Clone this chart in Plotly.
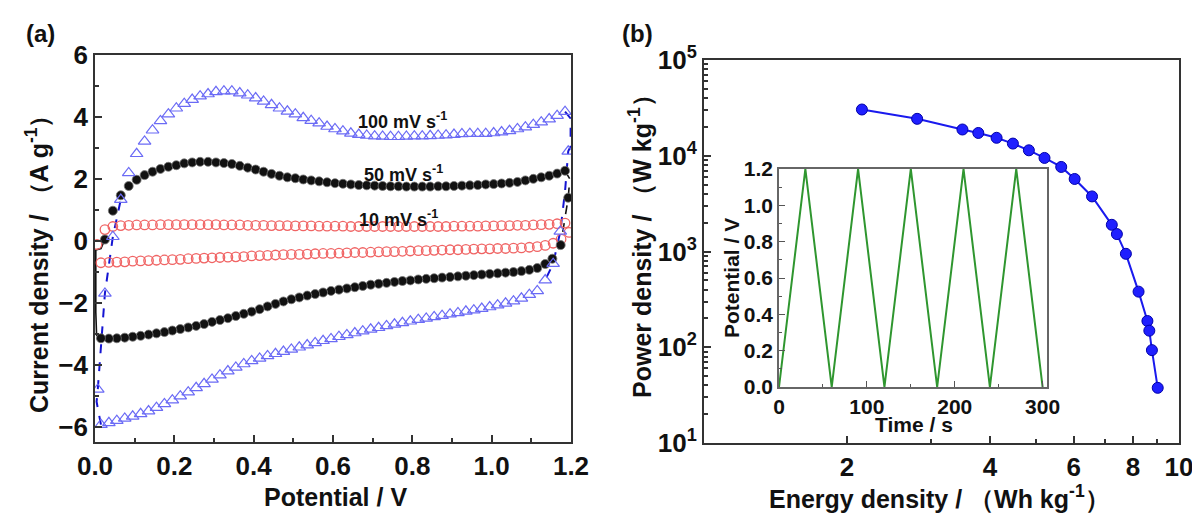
import plotly.graph_objects as go

# ---------------- (a) cyclic voltammograms ----------------
# 100 mV s-1 (blue open triangles)
V_up100 = [0.007, 0.025, 0.045, 0.065, 0.085, 0.105, 0.125, 0.145, 0.165, 0.185, 0.205, 0.225,
           0.245, 0.265, 0.285, 0.305, 0.325, 0.345, 0.365, 0.385, 0.405, 0.425, 0.445, 0.465,
           0.485, 0.505, 0.525, 0.545, 0.565, 0.585, 0.605, 0.625, 0.645, 0.665, 0.685, 0.705,
           0.725, 0.745, 0.765, 0.785, 0.805, 0.825, 0.845, 0.865, 0.885, 0.905, 0.925, 0.945,
           0.965, 0.985, 1.005, 1.025, 1.045, 1.065, 1.085, 1.105, 1.125, 1.145, 1.165, 1.185]
I_up100 = [-4.80, -1.70, 0.13, 1.33, 2.19, 2.81, 3.21, 3.57, 3.87, 4.09, 4.28, 4.43,
           4.56, 4.67, 4.74, 4.81, 4.83, 4.83, 4.77, 4.70, 4.61, 4.50, 4.39, 4.28,
           4.18, 4.09, 3.97, 3.88, 3.80, 3.69, 3.61, 3.54, 3.47, 3.43, 3.40, 3.38,
           3.37, 3.36, 3.36, 3.37, 3.38, 3.38, 3.39, 3.40, 3.41, 3.43, 3.45, 3.46,
           3.46, 3.46, 3.48, 3.51, 3.55, 3.61, 3.67, 3.75, 3.83, 3.93, 4.04, 4.17]
V_lo100 = [1.193, 1.173, 1.155, 1.135, 1.115, 1.095, 1.075, 1.055, 1.035, 1.015, 0.995, 0.975,
           0.955, 0.935, 0.915, 0.895, 0.875, 0.855, 0.835, 0.815, 0.795, 0.775, 0.755, 0.735,
           0.715, 0.695, 0.675, 0.655, 0.635, 0.615, 0.595, 0.575, 0.555, 0.535, 0.515, 0.495,
           0.475, 0.455, 0.435, 0.415, 0.395, 0.375, 0.355, 0.335, 0.315, 0.295, 0.275, 0.255,
           0.235, 0.215, 0.195, 0.175, 0.155, 0.135, 0.115, 0.095, 0.075, 0.055, 0.035, 0.015]
I_lo100 = [2.89, 0.30, -0.74, -1.27, -1.62, -1.74, -1.86, -1.95, -2.02, -2.08, -2.14, -2.19,
           -2.24, -2.28, -2.33, -2.37, -2.42, -2.46, -2.51, -2.55, -2.60, -2.65, -2.70, -2.75,
           -2.81, -2.86, -2.92, -2.98, -3.04, -3.10, -3.17, -3.23, -3.30, -3.37, -3.44, -3.51,
           -3.58, -3.65, -3.72, -3.80, -3.88, -3.98, -4.09, -4.21, -4.34, -4.48, -4.62, -4.75,
           -4.89, -5.02, -5.15, -5.27, -5.39, -5.50, -5.59, -5.67, -5.74, -5.81, -5.88, -5.94]
# switching segments (drawn as dashed dark-blue line)
V_swL100 = [0.015, 0.004, 0.007, 0.025, 0.045, 0.065]
I_swL100 = [-5.94, -5.20, -4.80, -1.70, 0.13, 1.33]
V_swR100 = [1.185, 1.199, 1.199, 1.193, 1.185, 1.173, 1.155, 1.135]
I_swR100 = [4.17, 3.95, 3.05, 2.89, 1.60, 0.30, -0.74, -1.27]

# 50 mV s-1 (black spheres)
V_up50 = [0.025, 0.045, 0.065, 0.085, 0.105, 0.125, 0.145, 0.165, 0.185, 0.205,
          0.225, 0.245, 0.265, 0.285, 0.305, 0.325, 0.345, 0.365, 0.385, 0.405,
          0.425, 0.445, 0.465, 0.485, 0.505, 0.525, 0.545, 0.565, 0.585, 0.605,
          0.625, 0.645, 0.665, 0.685, 0.705, 0.725, 0.745, 0.765, 0.785, 0.805,
          0.825, 0.845, 0.865, 0.885, 0.905, 0.925, 0.945, 0.965, 0.985, 1.005,
          1.025, 1.045, 1.065, 1.085, 1.105, 1.125, 1.145, 1.165, 1.185]
I_up50 = [0.04, 0.97, 1.47, 1.77, 1.97, 2.12, 2.23, 2.32, 2.39, 2.44,
          2.50, 2.53, 2.55, 2.55, 2.53, 2.51, 2.48, 2.42, 2.36, 2.30,
          2.23, 2.16, 2.10, 2.05, 2.02, 1.98, 1.95, 1.92, 1.89, 1.86,
          1.84, 1.82, 1.80, 1.79, 1.78, 1.77, 1.76, 1.76, 1.75, 1.75,
          1.75, 1.75, 1.76, 1.76, 1.77, 1.78, 1.79, 1.80, 1.82, 1.83,
          1.85, 1.87, 1.90, 1.95, 2.00, 2.05, 2.10, 2.17, 2.26]
V_lo50 = [1.193, 1.174, 1.153, 1.135, 1.115, 1.095, 1.075, 1.055, 1.035, 1.015, 0.995, 0.975,
          0.955, 0.935, 0.915, 0.895, 0.875, 0.855, 0.835, 0.815, 0.795, 0.775, 0.755, 0.735,
          0.715, 0.695, 0.675, 0.655, 0.635, 0.615, 0.595, 0.575, 0.555, 0.535, 0.515, 0.495,
          0.475, 0.455, 0.435, 0.415, 0.395, 0.375, 0.355, 0.335, 0.315, 0.295, 0.275, 0.255,
          0.235, 0.215, 0.195, 0.175, 0.155, 0.135, 0.115, 0.095, 0.075, 0.055, 0.035, 0.015]
I_lo50 = [1.39, -0.14, -0.58, -0.75, -0.88, -0.94, -0.98, -1.01, -1.03, -1.05, -1.07, -1.09,
          -1.11, -1.13, -1.15, -1.17, -1.19, -1.21, -1.23, -1.25, -1.28, -1.30, -1.33, -1.36,
          -1.39, -1.42, -1.46, -1.50, -1.54, -1.58, -1.62, -1.67, -1.72, -1.77, -1.83, -1.89,
          -1.96, -2.04, -2.12, -2.21, -2.29, -2.36, -2.43, -2.50, -2.56, -2.62, -2.69, -2.75,
          -2.80, -2.85, -2.90, -2.95, -2.99, -3.03, -3.07, -3.10, -3.13, -3.15, -3.16, -3.15]
V_swL50 = [0.015, 0.004, 0.002, 0.002, 0.015, 0.025]
I_swL50 = [-3.15, -3.05, -2.30, -0.30, -0.25, 0.04]
V_swR50 = [1.185, 1.197, 1.193, 1.174, 1.153]
I_swR50 = [2.26, 2.00, 1.39, -0.14, -0.58]

# 10 mV s-1 (red open circles)
V_up10 = [0.005, 0.025, 0.045, 0.065, 0.085, 0.105, 0.125, 0.145, 0.165, 0.185,
          0.205, 0.225, 0.245, 0.265, 0.285, 0.305, 0.325, 0.345, 0.365, 0.385,
          0.405, 0.425, 0.445, 0.465, 0.485, 0.505, 0.525, 0.545, 0.565, 0.585,
          0.605, 0.625, 0.645, 0.665, 0.685, 0.705, 0.725, 0.745, 0.765, 0.785,
          0.805, 0.825, 0.845, 0.865, 0.885, 0.905, 0.925, 0.945, 0.965, 0.985,
          1.005, 1.025, 1.045, 1.065, 1.085, 1.105, 1.125, 1.145, 1.165, 1.185]
I_up10 = [-0.12, 0.36, 0.46, 0.49, 0.50, 0.51, 0.51, 0.51, 0.52, 0.52,
          0.52, 0.52, 0.52, 0.52, 0.52, 0.52, 0.51, 0.51, 0.51, 0.50,
          0.50, 0.50, 0.49, 0.49, 0.49, 0.48, 0.48, 0.48, 0.47, 0.47,
          0.47, 0.47, 0.46, 0.46, 0.46, 0.46, 0.46, 0.46, 0.46, 0.46,
          0.46, 0.46, 0.46, 0.46, 0.46, 0.47, 0.47, 0.47, 0.47, 0.48,
          0.48, 0.49, 0.49, 0.50, 0.50, 0.51, 0.52, 0.53, 0.55, 0.57]
V_lo10 = [1.195, 1.175, 1.155, 1.135, 1.115, 1.095, 1.075, 1.055, 1.035, 1.015,
          0.995, 0.975, 0.955, 0.935, 0.915, 0.895, 0.875, 0.855, 0.835, 0.815,
          0.795, 0.775, 0.755, 0.735, 0.715, 0.695, 0.675, 0.655, 0.635, 0.615,
          0.595, 0.575, 0.555, 0.535, 0.515, 0.495, 0.475, 0.455, 0.435, 0.415,
          0.395, 0.375, 0.355, 0.335, 0.315, 0.295, 0.275, 0.255, 0.235, 0.215,
          0.195, 0.175, 0.155, 0.135, 0.115, 0.095, 0.075, 0.055, 0.035, 0.015]
I_lo10 = [0.27, 0.05, -0.08, -0.15, -0.19, -0.21, -0.23, -0.24, -0.25, -0.25,
          -0.26, -0.26, -0.27, -0.28, -0.29, -0.29, -0.30, -0.31, -0.32, -0.32,
          -0.33, -0.34, -0.35, -0.35, -0.36, -0.37, -0.38, -0.38, -0.39, -0.40,
          -0.41, -0.41, -0.42, -0.43, -0.44, -0.44, -0.45, -0.46, -0.47, -0.48,
          -0.49, -0.51, -0.52, -0.53, -0.54, -0.55, -0.56, -0.57, -0.58, -0.60,
          -0.61, -0.62, -0.63, -0.64, -0.65, -0.66, -0.68, -0.69, -0.70, -0.71]

scan_labels = ["100 mV s<sup>-1</sup>", "50 mV s<sup>-1</sup>", "10 mV s<sup>-1</sup>"]
label_V = [0.776, 0.777, 0.764]
label_I = [3.90, 2.18, 0.73]

xa_ticks = [0.0, 0.2, 0.4, 0.6, 0.8, 1.0, 1.2]
xa_text = ["0.0", "0.2", "0.4", "0.6", "0.8", "1.0", "1.2"]
ya_ticks = [-6, -4, -2, 0, 2, 4, 6]

# ---------------- (b) Ragone plot ----------------
energy = [2.15, 2.81, 3.50, 3.78, 4.13, 4.47, 4.83, 5.21, 5.65, 6.03,
          6.56, 7.22, 7.40, 7.73, 8.22, 8.58, 8.66, 8.77, 9.02]
power = [30400, 24300, 18800, 17300, 15400, 13400, 11400, 9490, 7640, 5720,
         3760, 1900, 1520, 946, 381, 188, 149, 93.3, 37.7]
xb_ticks = [2, 4, 6, 8, 10]
xb_minor = [3, 5, 7, 9]
yb_ticks = [10, 100, 1000, 10000, 100000]
yb_text = ["10<sup>1</sup>", "10<sup>2</sup>", "10<sup>3</sup>", "10<sup>4</sup>", "10<sup>5</sup>"]

# inset: galvanostatic charge-discharge
time_s = [0, 30, 60, 90, 120, 150, 180, 210, 240, 270, 300]
pot_v = [0.0, 1.2, 0.0, 1.2, 0.0, 1.2, 0.0, 1.2, 0.0, 1.2, 0.0]

# ---------------- figure ----------------
FONT = "Liberation Sans, Arial, sans-serif"
BLUE_T = "#6b6bf5"
RED_C = "#f06464"
DARKBLUE = "#1414d2"
FRAME = "#333333"
W, H, OFF = 1200, 526, 8   # page body margin offset


def px(xp):
    return (xp - OFF) / W


def py(yp):
    return 1 - (yp - OFF) / H


fig = go.Figure()


def pts(x, y, sym, color, size, lw, xa="x", ya="y"):
    fig.add_trace(go.Scatter(x=x, y=y, mode="markers", xaxis=xa, yaxis=ya,
                             marker=dict(symbol=sym, color=color, size=size,
                                         line=dict(color=color, width=lw)),
                             hoverinfo="skip"))


def line(x, y, color, width, dash="solid", xa="x", ya="y"):
    fig.add_trace(go.Scatter(x=x, y=y, mode="lines", xaxis=xa, yaxis=ya,
                             line=dict(color=color, width=width, dash=dash),
                             hoverinfo="skip"))


# switching segments
line(V_swL50, I_swL50, "#111111", 1.6)
line(V_swR50, I_swR50, "#111111", 1.6, "dash")
line(V_swL100, I_swL100, DARKBLUE, 2, "dash")
line(V_swR100, I_swR100, DARKBLUE, 2, "dash")

# 10 mV
pts(V_up10, I_up10, "circle-open", RED_C, 9.5, 1.3)
pts(V_lo10, I_lo10, "circle-open", RED_C, 9.5, 1.3)
# 50 mV
fig.add_trace(go.Scatter(x=V_up50 + [None] + V_lo50, y=I_up50 + [None] + I_lo50, mode="markers",
                         marker=dict(symbol="circle", color="#111111", size=9,
                                     line=dict(color="#777777", width=0.8)),
                         hoverinfo="skip"))
# 100 mV
pts(V_up100, I_up100, "triangle-up-open", BLUE_T, 11, 1.2)
pts(V_lo100, I_lo100, "triangle-up-open", BLUE_T, 11, 1.2)

# Ragone
fig.add_trace(go.Scatter(x=energy, y=power, mode="lines+markers", xaxis="x2", yaxis="y2",
                         line=dict(color="#1a1aee", width=2),
                         marker=dict(symbol="circle", size=11, color="#1f1fff",
                                     line=dict(color="#0000aa", width=1)),
                         hoverinfo="skip"))
# inset
line(time_s, pot_v, "#2f962f", 2, xa="x3", ya="y3")

axis_common = dict(showgrid=False, zeroline=False, showline=True, linecolor=FRAME, linewidth=1.8,
                   mirror=True, ticks="inside", tickcolor=FRAME, tickwidth=1.5, automargin=False,
                   tickfont=dict(family=FONT, size=26, color="#111111", weight="bold"))
inset_common = dict(showgrid=False, zeroline=False, showline=True, linecolor="#666666", linewidth=1.5,
                    mirror=True, ticks="inside", tickcolor="#555", automargin=False,
                    tickfont=dict(family=FONT, size=21, color="#111111", weight="bold"))

fig.update_layout(
    width=W, height=H, margin=dict(l=0, r=0, t=0, b=0, autoexpand=False),
    paper_bgcolor="white", plot_bgcolor="white", showlegend=False,
    font=dict(family=FONT, color="#111111"),
    xaxis=dict(domain=[px(95), px(571)], range=[0, 1.2], anchor="y",
               tickvals=xa_ticks, ticktext=xa_text, ticklen=7,
               minor=dict(dtick=0.1, tick0=0, ticks="inside", ticklen=4, tickcolor=FRAME),
               **axis_common),
    yaxis=dict(domain=[py(442), py(55)], range=[-6.5, 6], anchor="x",
               tickvals=ya_ticks, ticklen=7,
               minor=dict(dtick=1, tick0=0, ticks="inside", ticklen=4, tickcolor=FRAME),
               **axis_common),
    xaxis2=dict(domain=[px(704), px(1179)], type="log", range=[0, 1], anchor="y2",
                tickvals=xb_ticks, ticktext=[str(v) for v in xb_ticks], ticklen=7,
                minor=dict(tickvals=xb_minor, ticks="inside", ticklen=4, tickcolor=FRAME),
                **axis_common),
    yaxis2=dict(domain=[py(443), py(60)], type="log", range=[1, 5], anchor="x2",
                tickvals=yb_ticks, ticktext=yb_text, ticklen=7,
                minor=dict(dtick="D1", ticks="inside", ticklen=4, tickcolor=FRAME),
                **axis_common),
    xaxis3=dict(domain=[px(779), px(1047)], range=[0, 305], anchor="y3",
                tickvals=[0, 100, 200, 300], ticklen=6,
                minor=dict(dtick=50, tick0=0, ticks="inside", ticklen=3, tickcolor="#555"),
                **inset_common),
    yaxis3=dict(domain=[py(387), py(169)], range=[0, 1.2], anchor="x3",
                tickvals=[0, 0.2, 0.4, 0.6, 0.8, 1.0, 1.2],
                ticktext=["0.0", "0.2", "0.4", "0.6", "0.8", "1.0", "1.2"], ticklen=6,
                minor=dict(dtick=0.1, tick0=0, ticks="inside", ticklen=3, tickcolor="#555"),
                **inset_common),
)

ann = []
for t, vx, iy in zip(scan_labels, label_V, label_I):
    ann.append(dict(text="<b>" + t + "</b>", x=vx, y=iy, xref="x", yref="y", showarrow=False,
                    xanchor="center", yanchor="middle",
                    font=dict(family=FONT, size=18, color="#111111")))


def ptext(t, x, y, size, angle=0):
    ann.append(dict(text="<b>" + t + "</b>", x=px(x), y=py(y), xref="paper", yref="paper",
                    xanchor="center", yanchor="middle", showarrow=False, textangle=angle,
                    font=dict(family=FONT, size=size, color="#111111")))


ptext("(a)", 40, 33, 24)
ptext("(b)", 637, 33, 24)
ptext("Current density / （A g<sup>-1</sup>）", 37, 258, 25, -90)
ptext("Potential / V", 335, 497, 25)
ptext("Power density / （W kg<sup>-1</sup>）", 640, 240, 25, -90)
ptext("Energy density / （Wh kg<sup>-1</sup>）", 940, 497, 25)
ptext("Potential / V", 731, 278, 21, -90)
ptext("Time / s", 914, 424, 21)
fig.update_layout(annotations=ann)

fig.write_html("out.html")
